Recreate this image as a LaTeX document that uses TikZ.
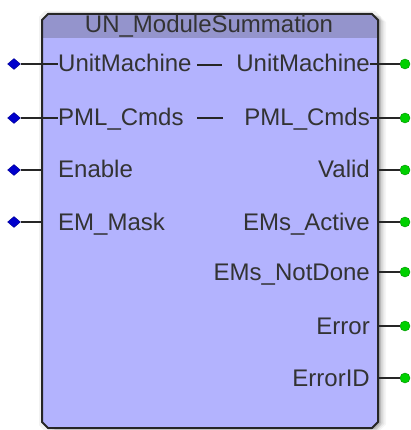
\documentclass[tikz,border=0pt]{standalone}
\usepackage{fontspec}
\setmainfont{Liberation Sans}
\usetikzlibrary{shapes.geometric}
\definecolor{bodyfill}{HTML}{B3B3FE}
\definecolor{headfill}{HTML}{9494CC}
\definecolor{edge}{HTML}{262626}
\definecolor{inpin}{HTML}{0000CC}
\definecolor{outpin}{HTML}{00D000}
\tikzset{
  lbl/.style={inner sep=0pt, font=\fontsize{24}{28}\selectfont, text=black!80},
  inlbl/.style={lbl, anchor=base west},
  outlbl/.style={lbl, anchor=base east},
  inmark/.style={diamond, fill=inpin, draw=inpin!70!black, inner sep=0pt, minimum width=13pt, minimum height=11pt},
  outmark/.style={circle, fill=outpin, draw=outpin!70!black, inner sep=0pt, minimum size=10pt},
  wire/.style={line width=1.3pt, black!85},
}
\begin{document}
\begin{tikzpicture}[x=1pt, y=-1pt]
\useasboundingbox (0,0) rectangle (411,430);
% soft shadow around the block, heavier to the right
\foreach \d/\o in {9/0.04, 7/0.06, 5/0.08, 3/0.12}{
  \fill[black, opacity=\o] [shift={(\d*0.9,\d*0.25)}] (48,14) -- (372,14) -- (378,20) -- (378,422) -- (372,428) -- (48,428) -- (42,422) -- (42,20) -- cycle;
}
\fill[black, opacity=0.05] (45,11) -- (375,11) -- (381,17) -- (381,425) -- (375,431) -- (45,431) -- (39,425) -- (39,17) -- cycle;
% block body and header band
\fill[bodyfill] (48,14) -- (372,14) -- (378,20) -- (378,422) -- (372,428) -- (48,428) -- (42,422) -- (42,20) -- cycle;
\begin{scope}
  \clip (48,14) -- (372,14) -- (378,20) -- (378,422) -- (372,428) -- (48,428) -- (42,422) -- (42,20) -- cycle;
  \fill[headfill] (40,10) rectangle (380,38);
\end{scope}
\draw[edge, line width=2pt, line join=round] (48,14) -- (372,14) -- (378,20) -- (378,422) -- (372,428) -- (48,428) -- (42,422) -- (42,20) -- cycle;
% title
\node[lbl, anchor=base] (title) at (209,33) {UN\_ModuleSummation};

% input labels
\node[inlbl] (iUM) at (58,72) {UnitMachine};
\node[inlbl] (iPML) at (58,126) {PML\_Cmds};
\node[inlbl] (iEn) at (58,178) {Enable};
\node[inlbl] (iEM) at (58,230) {EM\_Mask};
% output labels
\node[outlbl] (oUM) at (370,72) {UnitMachine};
\node[outlbl] (oPML) at (370,126) {PML\_Cmds};
\node[outlbl] (oVal) at (370,178) {Valid};
\node[outlbl] (oAct) at (370,230) {EMs\_Active};
\node[outlbl] (oND) at (370,280) {EMs\_NotDone};
\node[outlbl] (oErr) at (370,334) {Error};
\node[outlbl] (oID) at (370,386) {ErrorID};

% pass-through dashes
\coordinate (d1a) at (197,65); \coordinate (d1b) at (222,65);
\coordinate (d2a) at (197,118); \coordinate (d2b) at (223,118);
\draw[wire] (d1a) -- (d1b);
\draw[wire] (d2a) -- (d2b);

% input pins
\node[inmark] (pUM) at (14,64) {};
\node[inmark] (pPML) at (14,118) {};
\node[inmark] (pEn) at (14,170) {};
\node[inmark] (pEM) at (14,222) {};
\coordinate (eEn) at (42,170);
\coordinate (eEM) at (42,222);
\draw[wire] (pUM) -- (iUM.west |- pUM);
\draw[wire] (pPML) -- (iPML.west |- pPML);
\draw[wire] (pEn) -- (eEn);
\draw[wire] (pEM) -- (eEM);

% output pins
\node[outmark] (qUM) at (405,64) {};
\node[outmark] (qPML) at (405,118) {};
\node[outmark] (qVal) at (405,170) {};
\node[outmark] (qAct) at (405,222) {};
\node[outmark] (qND) at (405,272) {};
\node[outmark] (qErr) at (405,326) {};
\node[outmark] (qID) at (405,378) {};
\foreach \n/\y in {Val/170, Act/222, ND/272, Err/326, ID/378}{
  \coordinate (f\n) at (378,\y);
  \draw[wire] (f\n) -- (q\n);
}
\draw[wire] (oUM.east |- qUM) -- (qUM);
\draw[wire] (oPML.east |- qPML) -- (qPML);
\end{tikzpicture}
\end{document}
